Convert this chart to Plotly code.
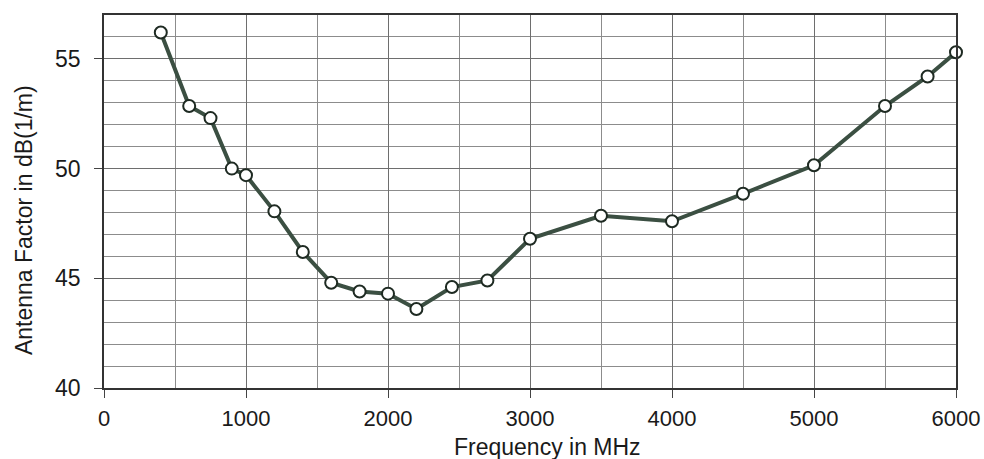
import plotly.graph_objects as go

freq_mhz = [400, 600, 750, 900, 1000, 1200, 1400, 1600, 1800, 2000, 2200,
            2450, 2700, 3000, 3500, 4000, 4500, 5000, 5500, 5800, 6000]
antenna_factor_db = [56.2, 52.85, 52.3, 50.0, 49.7, 48.05, 46.2, 44.8, 44.4, 44.3, 43.6,
                     44.6, 44.9, 46.8, 47.85, 47.6, 48.85, 50.15, 52.85, 54.2, 55.3]

x_ticks = [0, 1000, 2000, 3000, 4000, 5000, 6000]
y_ticks = [40, 45, 50, 55]
x_title = "Frequency in MHz"
y_title = "Antenna Factor in dB(1/m)"

FONT = "Liberation Sans, Arial, sans-serif"

fig = go.Figure()
fig.add_trace(go.Scatter(
    x=freq_mhz, y=antenna_factor_db, mode="lines+markers",
    line=dict(color="#3b4f42", width=4),
    marker=dict(size=12, color="white", line=dict(color="#1e2a22", width=2)),
    showlegend=False, cliponaxis=False,
))

fig.update_layout(
    width=984, height=459,
    margin=dict(l=104, r=28, t=15, b=71),
    paper_bgcolor="white", plot_bgcolor="white",
    font=dict(family=FONT, size=23, color="#1a1a1a"),
)
fig.update_xaxes(
    range=[0, 6000], tickvals=x_ticks, ticktext=[str(v) for v in x_ticks],
    showgrid=True, gridcolor="#6e6e6e", gridwidth=1,
    minor=dict(dtick=500, tick0=0, showgrid=True, gridcolor="#8c8c8c", gridwidth=1),
    ticks="outside", ticklen=8, tickcolor="#444", tickwidth=1,
    ticklabelstandoff=2, tickfont=dict(size=22),
    showline=True, linecolor="#333", linewidth=1.5, mirror=True,
    zeroline=False, automargin=False,
)
fig.update_yaxes(
    range=[40, 57], tickvals=y_ticks, ticktext=[str(v) for v in y_ticks],
    showgrid=True, gridcolor="#6e6e6e", gridwidth=1,
    minor=dict(dtick=1, tick0=40, showgrid=True, gridcolor="#8c8c8c", gridwidth=1),
    ticks="outside", ticklen=8, tickcolor="#444", tickwidth=1,
    ticklabelstandoff=9,
    showline=True, linecolor="#333", linewidth=1.5, mirror=True,
    zeroline=False, automargin=False,
)
fig.add_annotation(text=x_title, xref="paper", yref="paper", x=0.52, y=-0.158,
                   xanchor="center", yanchor="middle", showarrow=False,
                   font=dict(size=23))
fig.add_annotation(text=y_title, xref="paper", yref="paper", x=-0.094, y=0.45,
                   xanchor="center", yanchor="middle", showarrow=False, textangle=-90,
                   font=dict(size=23))

fig.write_html("out.html", post_script="document.body.style.margin='0';",
               config={"displayModeBar": False})
